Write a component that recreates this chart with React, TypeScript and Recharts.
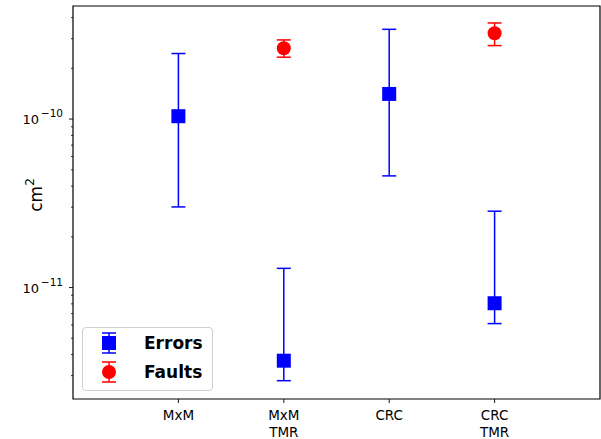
import React from "react";
import {
  ScatterChart,
  Scatter,
  XAxis,
  YAxis,
  ErrorBar,
  ReferenceArea,
} from "recharts";

const categories = ["MxM", "MxM\nTMR", "CRC", "CRC\nTMR"];

// Errors (blue squares)
const errorsIndex = [0, 1, 2, 3];
const errorsValue = [1.04e-10, 3.68e-12, 1.41e-10, 8.07e-12];
const errorsHigh = [2.45e-10, 1.3e-11, 3.41e-10, 2.84e-11];
const errorsLow = [3.01e-11, 2.8e-12, 4.6e-11, 6.11e-12];

// Faults (red circles)
const faultsIndex = [1, 3];
const faultsValue = [2.63e-10, 3.23e-10];
const faultsHigh = [2.95e-10, 3.72e-10];
const faultsLow = [2.33e-10, 2.73e-10];

const majorTicks = [1e-11, 1e-10];
const minorTicks = [
  3e-12, 4e-12, 5e-12, 6e-12, 7e-12, 8e-12, 9e-12,
  2e-11, 3e-11, 4e-11, 5e-11, 6e-11, 7e-11, 8e-11, 9e-11,
  2e-10, 3e-10, 4e-10,
];
const yDomain = [2.18e-12, 4.69e-10];

const BLUE = "#0000ff";
const RED = "#ff0000";
const FONT = "DejaVu Sans, sans-serif";

const errorsData = errorsIndex.map((x, i) => ({
  x,
  y: errorsValue[i],
  err: [errorsValue[i] - errorsLow[i], errorsHigh[i] - errorsValue[i]],
}));

const faultsData = faultsIndex.map((x, i) => ({
  x,
  y: faultsValue[i],
  err: [faultsValue[i] - faultsLow[i], faultsHigh[i] - faultsValue[i]],
}));

const Square = (props: any) => {
  const { cx, cy } = props;
  return <rect x={cx - 7} y={cy - 7} width={14} height={14} fill={BLUE} />;
};

const Dot = (props: any) => {
  const { cx, cy } = props;
  return <circle cx={cx} cy={cy} r={7} fill={RED} />;
};

const YTick = (props: any) => {
  const { x, y, payload } = props;
  const exp = Math.round(Math.log10(payload.value));
  const isMajor = majorTicks.some((t) => Math.abs(t - payload.value) / t < 1e-6);
  if (!isMajor) {
    return <line x1={x - 2} x2={x} y1={y} y2={y} stroke="#000" strokeWidth={0.8} />;
  }
  return (
    <g>
      <line x1={x - 4} x2={x} y1={y} y2={y} stroke="#000" strokeWidth={0.9} />
      <text x={x - 34} y={y + 5} textAnchor="end" fontFamily={FONT} fontSize={13} fill="#000">
        10
      </text>
      <text x={x - 10} y={y - 2} textAnchor="end" fontFamily={FONT} fontSize={10.5} fill="#000">
        {"\u2212" + Math.abs(exp)}
      </text>
    </g>
  );
};

const XTick = (props: any) => {
  const { x, y, payload } = props;
  const lines = categories[payload.value].split("\n");
  return (
    <text x={x} y={y} textAnchor="middle" fontFamily={FONT} fontSize={13.5} fill="#000">
      {lines.map((l, i) => (
        <tspan key={i} x={x} dy={i === 0 ? 15 : 17}>
          {l}
        </tspan>
      ))}
    </text>
  );
};

const LegendIcon = ({ kind }: { kind: "square" | "circle" }) => {
  const c = kind === "square" ? BLUE : RED;
  return (
    <svg width={20} height={26} style={{ display: "block" }}>
      <line x1={10} x2={10} y1={3} y2={23} stroke={c} strokeWidth={1.5} />
      <line x1={3} x2={17} y1={3} y2={3} stroke={c} strokeWidth={1.5} />
      <line x1={3} x2={17} y1={23} y2={23} stroke={c} strokeWidth={1.5} />
      {kind === "square" ? (
        <rect x={3} y={6} width={14} height={14} fill={c} />
      ) : (
        <circle cx={10} cy={13} r={7} fill={c} />
      )}
    </svg>
  );
};

const LegendBox = () => (
  <div
    style={{
      position: "absolute",
      left: 82,
      top: 327,
      width: 129,
      height: 62,
      border: "1px solid #d0d0d0",
      borderRadius: 4,
      background: "rgba(255,255,255,0.8)",
      fontFamily: FONT,
      fontWeight: "bold",
      fontSize: 17,
    }}
  >
    {[
      { label: "Errors", kind: "square" as const },
      { label: "Faults", kind: "circle" as const },
    ].map((e) => (
      <div key={e.label} style={{ display: "flex", alignItems: "center", height: 29 }}>
        <div style={{ marginLeft: 16, width: 20 }}>
          <LegendIcon kind={e.kind} />
        </div>
        <span style={{ marginLeft: 25 }}>{e.label}</span>
      </div>
    ))}
  </div>
);

export default function App() {
  return (
    <div style={{ position: "absolute", left: 0, top: 0, width: 601, height: 439, background: "#fff" }}>
      <ScatterChart width={601} height={439} margin={{ top: 6, right: 1, bottom: 0, left: 0 }}>
        <XAxis
          type="number"
          dataKey="x"
          domain={[-1, 4]}
          ticks={[0, 1, 2, 3]}
          allowDataOverflow
          height={40}
          axisLine={false}
          tickLine={{ stroke: "#000", strokeWidth: 0.9 }}
          tickSize={4}
          tickMargin={2}
          tick={<XTick />}
          interval={0}
        />
        <YAxis
          type="number"
          dataKey="y"
          scale="log"
          domain={yDomain}
          allowDataOverflow
          ticks={[...minorTicks, ...majorTicks].sort((a, b) => a - b)}
          interval={0}
          width={73}
          axisLine={false}
          tickLine={false}
          tickSize={0}
          tickMargin={0}
          tick={<YTick />}
          label={{
            content: () => (
              <text
                transform="translate(42,195) rotate(-90)"
                textAnchor="middle"
                fontFamily={FONT}
                fontSize={17}
                fill="#000"
              >
                cm
                <tspan dy={-8} fontSize={12}>
                  2
                </tspan>
              </text>
            ),
          }}
        />
        <ReferenceArea
          x1={-1}
          x2={4}
          y1={yDomain[0]}
          y2={yDomain[1]}
          fill="none"
          stroke="#000"
          strokeWidth={1.2}
          ifOverflow="visible"
        />
        <Scatter data={errorsData} shape={<Square />} isAnimationActive={false} name="Errors">
          <ErrorBar dataKey="err" direction="y" width={7} stroke={BLUE} strokeWidth={1.5} />
        </Scatter>
        <Scatter data={faultsData} shape={<Dot />} isAnimationActive={false} name="Faults">
          <ErrorBar dataKey="err" direction="y" width={7} stroke={RED} strokeWidth={1.5} />
        </Scatter>
      </ScatterChart>
      <LegendBox />
    </div>
  );
}
